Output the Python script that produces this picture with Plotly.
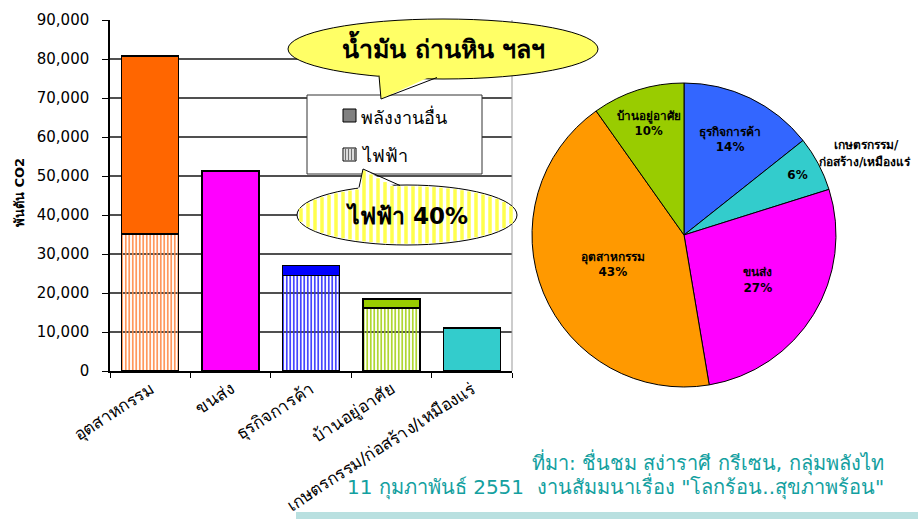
import math
import plotly.graph_objects as go

# ---------------- data ----------------
categories = ["อุตสาหกรรม", "ขนส่ง", "ธุรกิจการค้า", "บ้านอยู่อาศัย", "เกษตรกรรม/ก่อสร้าง/เหมืองแร่"]
electricity = [35100, 0, 24500, 16200, 0]
other_energy = [45700, 51300, 2500, 2300, 11000]
y_tick_values = [0, 10000, 20000, 30000, 40000, 50000, 60000, 70000, 80000, 90000]

pie_labels = ["ธุรกิจการค้า", "เกษตรกรรม/ก่อสร้าง/เหมืองแร่", "ขนส่ง", "อุตสาหกรรม", "บ้านอยู่อาศัย"]
pie_values = [27000, 11000, 51300, 80800, 18500]

legend_names = ["พลังงานอื่น", "ไฟฟ้า"]
callout_fuel = "น้ำมัน ถ่านหิน ฯลฯ"
callout_elec = "ไฟฟ้า 40%"
y_title = "พันตัน CO2"
pie_outside_label = ["เกษตรกรรม/", "ก่อสร้าง/เหมืองแร่"]
source_line1 = "ที่มา: ชื่นชม สง่าราศี กรีเซน, กลุ่มพลังไท"
source_line2 = "11 กุมภาพันธ์ 2551  งานสัมมนาเรื่อง \"โลกร้อน..สุขภาพร้อน\""

# ---------------- styles ----------------
W, H = 918, 519
FONT = "Tahoma, 'DejaVu Sans', Verdana, sans-serif"
solid_colors = ["#FF6600", "#FF00FF", "#0000FF", "#99CC00", "#33CCCC"]
stripe_fg = ["#FF8C4A", "#FF00FF", "#3030FF", "#A6D21A", "#33CCCC"]
stripe_bg = ["#FFE2CC", "#FF00FF", "#D8D8FF", "#F0F8D8", "#33CCCC"]
pie_colors = ["#3366FF", "#33CCCC", "#FF00FF", "#FF9900", "#99CC00"]


def X(px):
    return px / W


def Y(py):
    return 1 - py / H


fig = go.Figure()

fig.add_trace(go.Bar(
    x=categories, y=electricity, name=legend_names[1], showlegend=False,
    marker=dict(color=stripe_fg, line=dict(color="black", width=1.5),
                pattern=dict(shape="|", fgcolor=stripe_fg, bgcolor=stripe_bg, size=3.5, solidity=0.45,
                             fillmode="replace", fgopacity=1)),
))
fig.add_trace(go.Bar(
    x=categories, y=other_energy, name=legend_names[0], showlegend=False,
    marker=dict(color=solid_colors, line=dict(color="black", width=1.5)),
))

templates = ["%{label}<br>%{percent:.0%}" for _ in pie_labels]
templates[1] = "%{percent:.0%}"
fig.add_trace(go.Pie(
    labels=pie_labels, values=pie_values, sort=False, direction="clockwise", rotation=0,
    marker=dict(colors=pie_colors, line=dict(color="black", width=1)),
    texttemplate=templates, textposition="inside", insidetextorientation="horizontal",
    textfont=dict(family=FONT, size=12, color="black", weight="bold"),
    domain=dict(x=[X(532), X(836)], y=[Y(387), Y(83)]),
    showlegend=False, hoverinfo="label+percent+value",
))

shapes = []
# plot-area right border
shapes.append(dict(type="line", xref="paper", yref="paper", x0=X(512), x1=X(512), y0=Y(371), y1=Y(20),
                   line=dict(color="#999999", width=1)))

# legend box (drawn by hand)
shapes.append(dict(type="rect", xref="paper", yref="paper", x0=X(307), x1=X(482), y0=Y(174), y1=Y(95),
                   fillcolor="white", line=dict(color="#333333", width=1)))
shapes.append(dict(type="rect", xref="paper", yref="paper", x0=X(343), x1=X(356), y0=Y(122), y1=Y(109),
                   fillcolor="#808080", line=dict(color="black", width=1)))
shapes.append(dict(type="rect", xref="paper", yref="paper", x0=X(343), x1=X(356), y0=Y(161), y1=Y(148),
                   fillcolor="white", line=dict(color="black", width=1)))
for lx in [345.5, 348.5, 351.5, 354.5]:
    shapes.append(dict(type="line", xref="paper", yref="paper", x0=X(lx), x1=X(lx), y0=Y(160.5), y1=Y(148.5),
                       line=dict(color="#707070", width=1.5)))

# callout 1 (solid yellow)
c1x, c1y, r1x, r1y = 443, 49, 155, 30
shapes.append(dict(type="circle", xref="paper", yref="paper", x0=X(c1x - r1x), x1=X(c1x + r1x),
                   y0=Y(c1y + r1y), y1=Y(c1y - r1y), fillcolor="#FFFF66", line=dict(color="black", width=1)))
shapes.append(dict(type="path", xref="paper", yref="paper",
                   path="M {} {} L {} {} L {} {} Z".format(X(378), Y(70), X(381), Y(99), X(445), Y(70)),
                   fillcolor="#FFFF66", line=dict(width=0)))
shapes.append(dict(type="path", xref="paper", yref="paper",
                   path="M {} {} L {} {} L {} {}".format(X(379), Y(75.5), X(381), Y(99), X(437), Y(77.5)),
                   line=dict(color="black", width=1)))

# callout 2 (striped yellow)
c2x, c2y, r2x, r2y = 407, 215, 110, 30
shapes.append(dict(type="circle", xref="paper", yref="paper", x0=X(c2x - r2x), x1=X(c2x + r2x),
                   y0=Y(c2y + r2y), y1=Y(c2y - r2y), fillcolor="white", line=dict(color="black", width=1)))
apex = (363, 169)
lb = (357, 193)
rb = (403, 191)
shapes.append(dict(type="path", xref="paper", yref="paper",
                   path="M {} {} L {} {} L {} {} Z".format(X(lb[0]), Y(lb[1]), X(apex[0]), Y(apex[1]), X(rb[0]), Y(rb[1])),
                   fillcolor="white", line=dict(width=0)))
sx = c2x - r2x + 4
while sx < c2x + r2x - 2:
    dx = (sx - c2x) / r2x
    dy = r2y * math.sqrt(max(0.0, 1 - dx * dx))
    top = c2y - dy + 1.2
    bot = c2y + dy - 1.2
    if lb[0] <= sx <= rb[0]:
        if sx <= apex[0]:
            tt = apex[1] + (apex[0] - sx) * (lb[1] - apex[1]) / (apex[0] - lb[0])
        else:
            tt = apex[1] + (sx - apex[0]) * (rb[1] - apex[1]) / (rb[0] - apex[0])
        top = min(top, tt + 1)
    if bot > top:
        shapes.append(dict(type="line", xref="paper", yref="paper", x0=X(sx), x1=X(sx), y0=Y(bot), y1=Y(top),
                           line=dict(color="#FFFF4D", width=3.5)))
    sx += 7
shapes.append(dict(type="path", xref="paper", yref="paper",
                   path="M {} {} L {} {} L {} {}".format(X(359), Y(187.5), X(apex[0]), Y(apex[1]), X(400), Y(185.5)),
                   line=dict(color="black", width=1)))

# bottom band
shapes.append(dict(type="rect", xref="paper", yref="paper", x0=X(296), x1=1, y0=0, y1=Y(512),
                   fillcolor="#B9E0E0", line=dict(width=0)))


def note(text, px, py, size, xanchor="center", bold=False, color="black", angle=0):
    return dict(text=text, xref="paper", yref="paper", x=X(px), y=Y(py), xanchor=xanchor, yanchor="middle",
                textangle=angle, showarrow=False,
                font=dict(family=FONT, size=size, color=color, weight="bold" if bold else "normal"))


annotations = [
    note(y_title, 19, 193, 13, bold=True, angle=-90),
    note(legend_names[0], 359, 116, 18, xanchor="left"),
    note(legend_names[1], 359, 155, 18, xanchor="left"),
    note(callout_fuel, 443, 47, 25, bold=True),
    note(callout_elec, 406, 215, 23, bold=True),
    note(pie_outside_label[0], 866, 145, 12, bold=True),
    note(pie_outside_label[1], 817, 162, 12, xanchor="left", bold=True),
    note(source_line1, 886, 462, 20, xanchor="right", color="#13A0A0"),
    note(source_line2, 886, 486, 20, xanchor="right", color="#13A0A0"),
]

fig.update_layout(
    width=W, height=H, margin=dict(l=0, r=0, t=0, b=0, autoexpand=False),
    paper_bgcolor="white", plot_bgcolor="white",
    barmode="stack", bargap=0.29, showlegend=False,
    font=dict(family=FONT, color="black"),
    xaxis=dict(domain=[X(110), X(512)], type="category", showline=True, linecolor="black", linewidth=1.5,
               ticks="outside", tickson="boundaries", ticklen=5, tickcolor="black", tickangle=-33,
               tickfont=dict(family=FONT, size=17, color="black"), automargin=False, showgrid=False,
               anchor="y"),
    yaxis=dict(domain=[Y(371), Y(20)], range=[0, 90000], tickvals=y_tick_values, tickformat=",d",
               showline=True, linecolor="black", linewidth=1.5, ticks="outside", ticklen=6, tickcolor="black",
               ticklabelstandoff=10,
               showgrid=True, gridcolor="#505050", gridwidth=2, zeroline=False,
               tickfont=dict(family=FONT, size=15, color="black"), automargin=False, anchor="x"),
    shapes=shapes, annotations=annotations,
)

fig.write_html("out.html", config={"displayModeBar": False},
               post_script="document.body.style.margin='0';document.body.style.overflow='hidden';")
